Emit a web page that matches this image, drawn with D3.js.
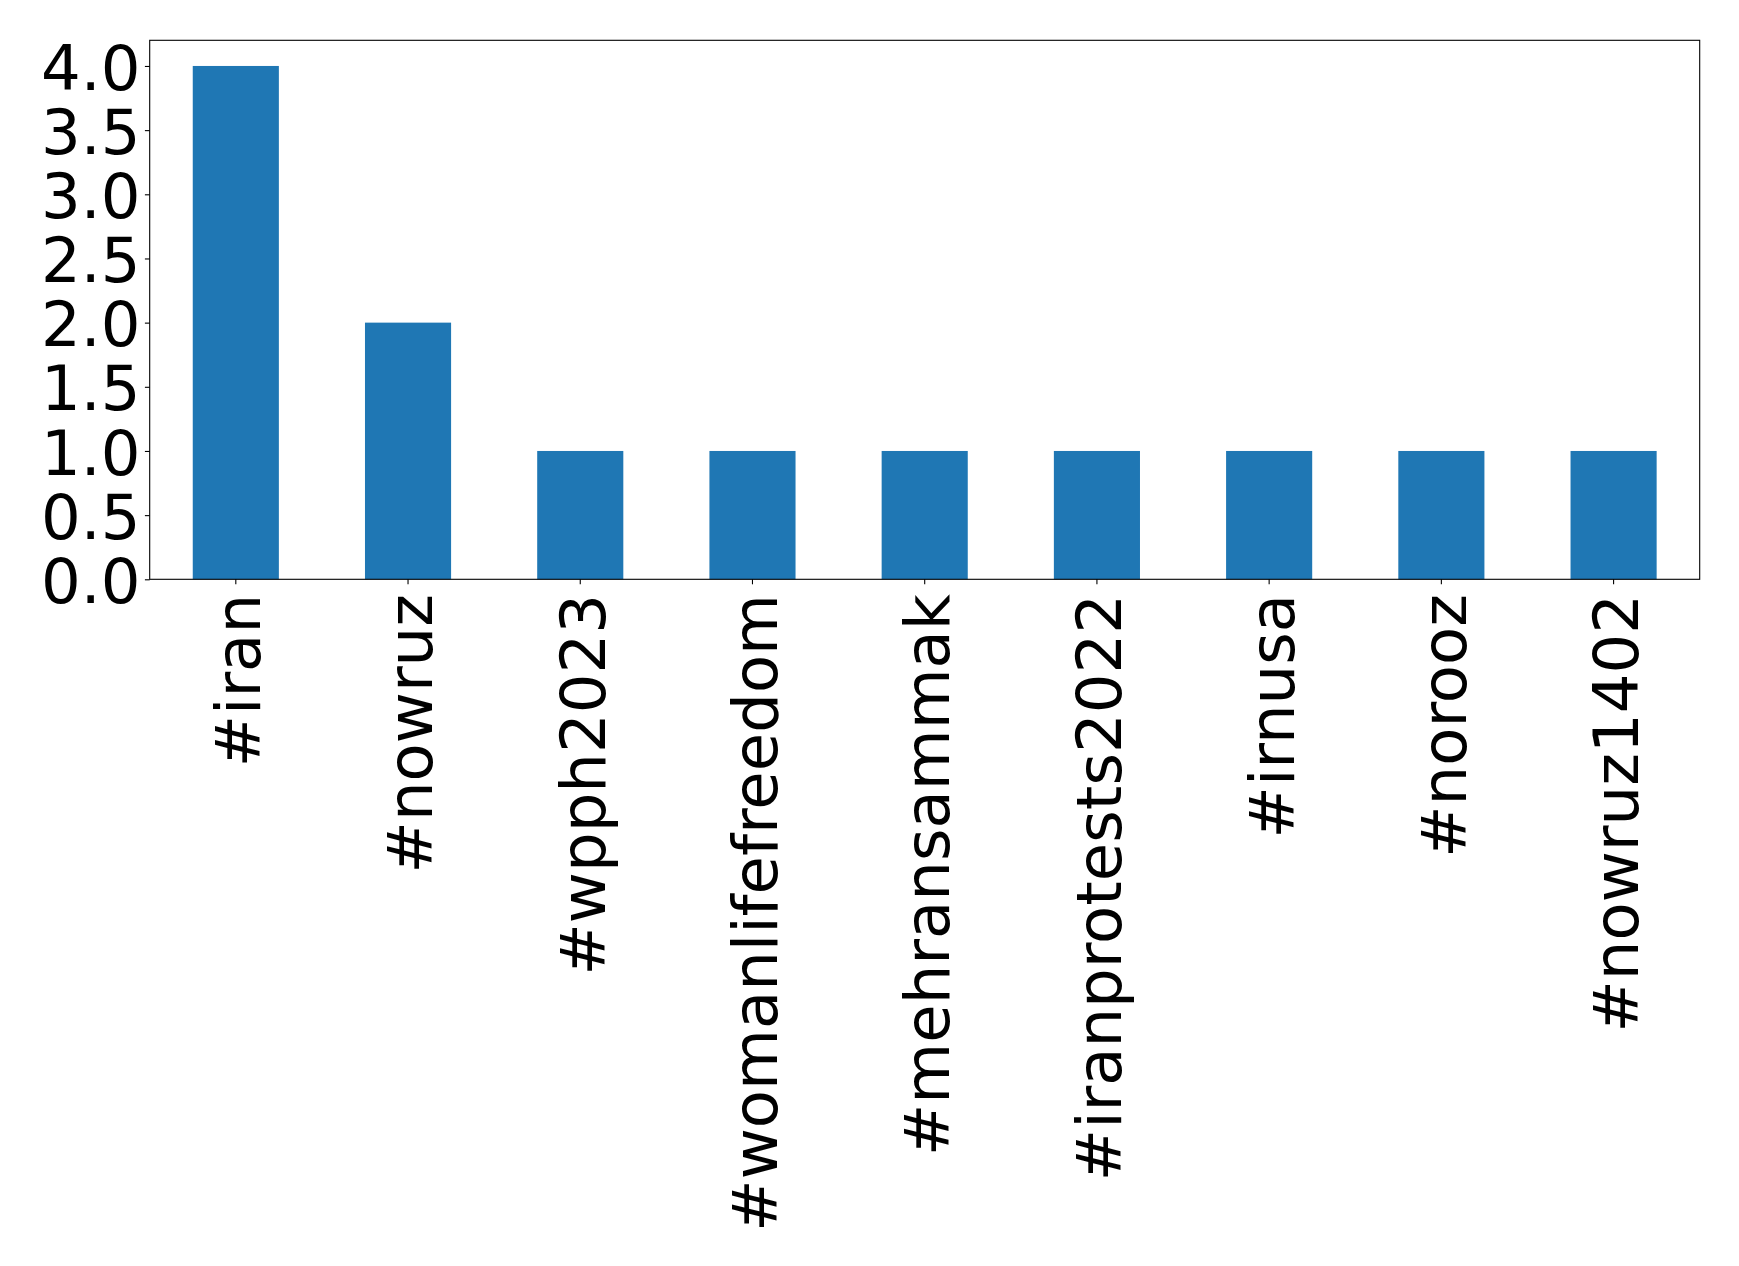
<!DOCTYPE html>
<html>
<head>
<meta charset="utf-8">
<script src="https://cdn.jsdelivr.net/npm/d3@7"></script>
<style>
  html, body { margin: 0; padding: 0; background: #fff; }
  svg { display: block; }
</style>
</head>
<body>
<svg id="chart" width="1739" height="1266"></svg>
<script>
const categories = ["#iran", "#nowruz", "#wpph2023", "#womanlifefreedom", "#mehransammak", "#iranprotests2022", "#irnusa", "#norooz", "#nowruz1402"];
const counts = [4, 2, 1, 1, 1, 1, 1, 1, 1];
const yTicks = [0, 0.5, 1.0, 1.5, 2.0, 2.5, 3.0, 3.5, 4.0];

const plotLeft = 149.7, plotRight = 1699.7, plotTop = 40.3, plotBottom = 579.3;
const fontFamily = "DejaVu Sans";
const fs = 62.5;

const svg = d3.select("#chart");

const x = d3.scaleBand().domain(categories).range([plotLeft, plotRight]).paddingInner(0.5).paddingOuter(0.25);
const y = d3.scaleLinear().domain([0, 4.2]).range([plotBottom, plotTop]);

// bars
svg.append("g").selectAll("rect").data(categories).join("rect")
  .attr("x", d => x(d))
  .attr("width", x.bandwidth())
  .attr("y", (d, i) => y(counts[i]))
  .attr("height", (d, i) => y(0) - y(counts[i]))
  .attr("fill", "#1f77b4");

// y axis
const yAxis = d3.axisLeft(y).tickValues(yTicks).tickFormat(d3.format(".1f")).tickSize(4.8).tickPadding(9);
const gy = svg.append("g").attr("transform", `translate(${plotLeft},0)`).call(yAxis);
gy.select(".domain").remove();
gy.selectAll(".tick line").attr("stroke", "#000").attr("stroke-width", 1.1);
gy.selectAll(".tick text")
  .attr("font-family", fontFamily).attr("font-size", fs).attr("fill", "#000")
  .attr("dy", "0.37em").attr("x", -9.2);

// x axis
const xAxis = d3.axisBottom(x).tickSize(5).tickPadding(0);
const gx = svg.append("g").attr("transform", `translate(0,${plotBottom})`).call(xAxis);
gx.select(".domain").remove();
gx.selectAll(".tick line").attr("stroke", "#000").attr("stroke-width", 1.1);
gx.selectAll(".tick text")
  .attr("font-family", fontFamily).attr("font-size", fs).attr("fill", "#000")
  .attr("transform", "rotate(-90)")
  .attr("text-anchor", "end")
  .attr("x", -14.7)
  .attr("y", 0)
  .attr("dy", "0.39em");

// frame
svg.append("rect")
  .attr("x", plotLeft).attr("y", plotTop)
  .attr("width", plotRight - plotLeft).attr("height", plotBottom - plotTop)
  .attr("fill", "none").attr("stroke", "#000").attr("stroke-width", 1.1);
</script>
</body>
</html>
